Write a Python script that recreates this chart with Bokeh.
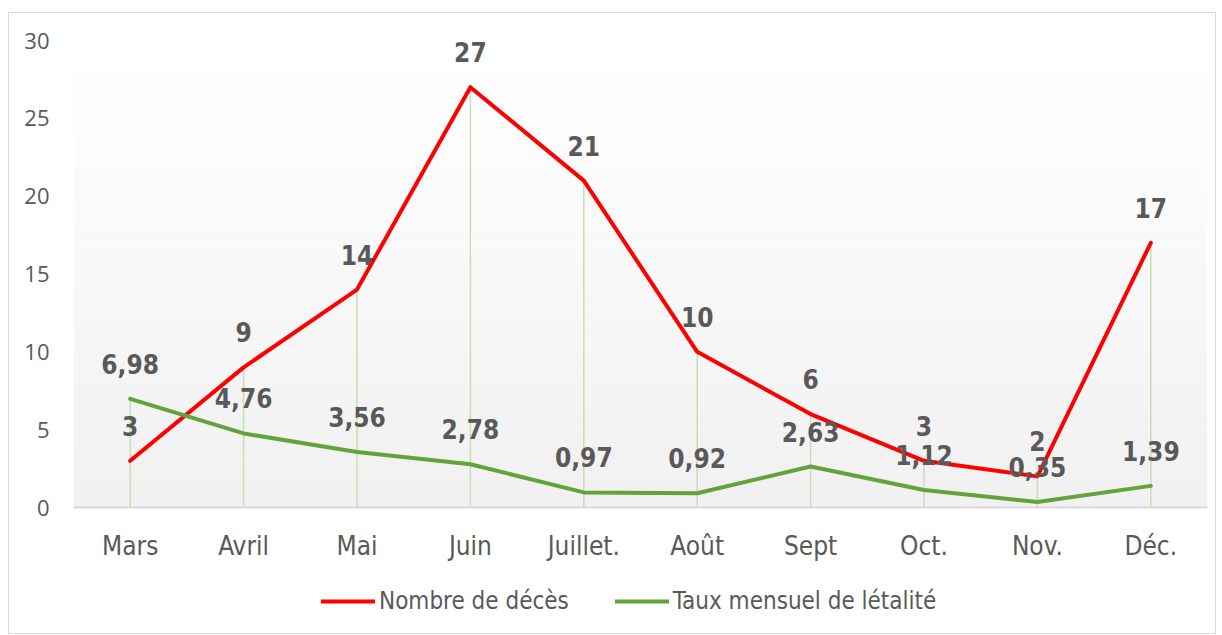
from bokeh.plotting import figure
from bokeh.layouts import column
from bokeh.models import (FactorRange, Range1d, FixedTicker, Legend, LegendItem,
                          BoxAnnotation, ColumnDataSource)
from bokeh.core.properties import value
from bokeh.embed import file_html
from bokeh.resources import INLINE

months = ["Mars", "Avril", "Mai", "Juin", "Juillet.", "Août", "Sept", "Oct.", "Nov.", "Déc."]
deaths = [3, 9, 14, 27, 21, 10, 6, 3, 2, 17]
rate = [6.98, 4.76, 3.56, 2.78, 0.97, 0.92, 2.63, 1.12, 0.35, 1.39]
yticks = [0, 5, 10, 15, 20, 25, 30]
series_names = ["Nombre de décès", "Taux mensuel de létalité"]

NARROW = "'DejaVu Sans Condensed', Roboto"
GRAY = "#595959"
RED = "#ff0000"
GREEN = "#62a33a"

src = ColumnDataSource(dict(
    m=months, d=deaths, r=rate,
    top=[max(a, b) for a, b in zip(deaths, rate)],
    dl=[str(v) for v in deaths],
    rl=[f"{v:.2f}".replace(".", ",") for v in rate],
))

p = figure(x_range=FactorRange(factors=months), y_range=Range1d(0, 30),
           width=1206, height=555, output_backend="svg", toolbar_location=None,
           min_border_left=64, min_border_right=8, min_border_top=27, min_border_bottom=61)
p.outline_line_color = None
p.background_fill_color = "white"
p.border_fill_color = "white"
p.xgrid.grid_line_color = None
p.ygrid.grid_line_color = None

# background gradient (white top -> light gray bottom)
nb = 30
for i in range(nb):
    t = i / (nb - 1)
    c = int(round(0xf1 + (0xff - 0xf1) * t))
    col = "#%02x%02x%02x" % (c, c, c)
    p.add_layout(BoxAnnotation(bottom=30 * i / nb, top=30 * (i + 1) / nb, fill_color=col,
                               fill_alpha=1, line_color=None, level="underlay"))

p.segment(x0="m", y0=0, x1="m", y1="top", source=src, line_color="#c5e0b4", line_width=1.5)

line_red = dict(line_color=RED, line_width=4, line_join="round", line_cap="round")
line_green = dict(line_color=GREEN, line_width=4, line_join="round", line_cap="round")
p.line(x="m", y="d", source=src, **line_red)
p.line(x="m", y="r", source=src, **line_green)

lbl = dict(text_align="center", text_baseline="middle", y_offset=-35,
           text_font=value(NARROW), text_font_style="bold", text_font_size="26px",
           text_color=GRAY)
p.text(x="m", y="d", text="dl", source=src, **lbl)
p.text(x="m", y="r", text="rl", source=src, **lbl)

p.yaxis.ticker = FixedTicker(ticks=yticks)
p.yaxis.axis_line_color = None
p.yaxis.major_tick_line_color = None
p.yaxis.minor_tick_line_color = None
p.yaxis.major_label_text_font = "Open Sans"
p.yaxis.major_label_text_font_size = "22px"
p.yaxis.major_label_text_color = GRAY
p.yaxis.major_label_standoff = 18

p.xaxis.axis_line_color = "#d9d9d9"
p.xaxis.axis_line_width = 2
p.xaxis.major_tick_line_color = None
p.xaxis.minor_tick_line_color = None
p.xaxis.major_label_text_font = NARROW
p.xaxis.major_label_text_font_size = "26px"
p.xaxis.major_label_text_color = GRAY
p.xaxis.major_label_standoff = 17

# legend strip under the chart (series drawn out of view; only the legend shows)
pl = figure(x_range=FactorRange(factors=months), y_range=Range1d(1000, 1001),
            width=1206, height=65, output_backend="svg", toolbar_location=None,
            x_axis_type=None, y_axis_type=None,
            min_border_left=0, min_border_right=0, min_border_top=0, min_border_bottom=0)
pl.outline_line_color = None
pl.xgrid.grid_line_color = None
pl.ygrid.grid_line_color = None
lr = pl.line(x="m", y="d", source=src, **line_red)
lg = pl.line(x="m", y="r", source=src, **line_green)
legend = Legend(items=[LegendItem(label=series_names[0], renderers=[lr]),
                       LegendItem(label=series_names[1], renderers=[lg])],
                orientation="horizontal", location=(248, 18),
                label_text_font=NARROW, label_text_font_size="24px",
                label_text_color=GRAY, glyph_width=54, glyph_height=20,
                label_standoff=4, spacing=46, padding=0, margin=0,
                border_line_color=None, background_fill_alpha=0)
pl.add_layout(legend, "center")

layout = column(p, pl, spacing=0)
layout.styles = {"border": "1px solid #d9d9d9", "margin-left": "8px", "margin-top": "12px",
                 "width": "1208px", "background-color": "white"}

open("out.html", "w").write(file_html(layout, INLINE))
